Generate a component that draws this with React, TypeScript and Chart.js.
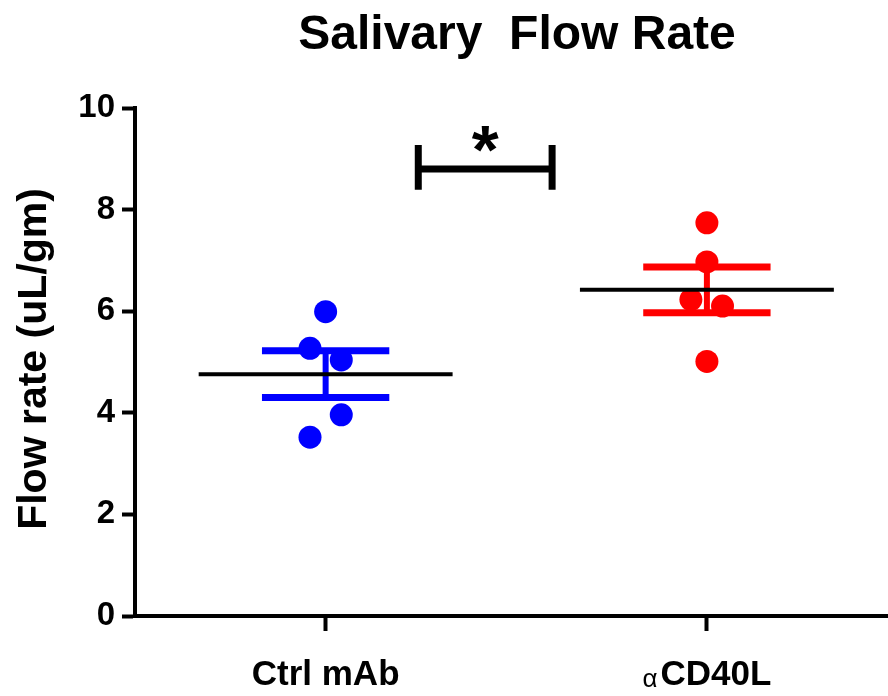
import React, { useEffect, useRef } from 'react';
import { Chart, registerables } from 'chart.js';

Chart.register(...registerables);

// ---- data ----
const chartTitle = 'Salivary  Flow Rate';
const yAxisTitle = 'Flow rate (uL/gm)';
const categories = ['Ctrl mAb', 'αCD40L'];
const categoryPositions = [1, 2];
const ctrlValues = [5.99, 5.27, 5.04, 3.96, 3.52];
const ctrlJitter = [0, -0.041, 0.041, 0.041, -0.041];
const cd40lValues = [7.74, 6.97, 6.23, 6.1, 5.01];
const cd40lJitter = [0, 0, -0.042, 0.041, 0];
const groupMeans = [4.76, 6.42];
const groupSem = [0.46, 0.45];
const groupColors = ['#0000ff', '#ff0000'];
const yTickMin = 0;
const yTickMax = 10;
const yTickStep = 2;
const meanHalfWidth = 0.333;
const capHalfWidth = 0.167;
const sigFrom = 1.243;
const sigTo = 1.594;
const sigY = 8.8;
const sigLow = 8.39;
const sigHigh = 9.27;
const sigLabel = '*';
const sigLabelY = 9.39;

const FONT = "'Liberation Sans', Arial, Helvetica, sans-serif";

const groups = [
  { values: ctrlValues, jitter: ctrlJitter },
  { values: cd40lValues, jitter: cd40lJitter },
];

function buildDatasets() {
  const meanSets: any[] = [];
  const semSets: any[] = [];
  const pointSets: any[] = [];
  groups.forEach((g, i) => {
    const c = categoryPositions[i];
    const m = groupMeans[i];
    const s = groupSem[i];
    const color = groupColors[i];
    meanSets.push({
      label: categories[i] + ' mean',
      data: [
        { x: c - meanHalfWidth, y: m },
        { x: c + meanHalfWidth, y: m },
      ],
      showLine: true,
      borderColor: '#000000',
      borderWidth: 4,
      pointRadius: 0,
      order: 0,
    });
    [m + s, m - s].forEach((v) => {
      semSets.push({
        label: categories[i] + ' sem cap',
        data: [
          { x: c - capHalfWidth, y: v },
          { x: c + capHalfWidth, y: v },
        ],
        showLine: true,
        borderColor: color,
        borderWidth: 7,
        borderCapStyle: 'butt',
        pointRadius: 0,
        order: 1,
      });
    });
    semSets.push({
      label: categories[i] + ' sem',
      data: [
        { x: c, y: m - s },
        { x: c, y: m + s },
      ],
      showLine: true,
      borderColor: color,
      borderWidth: 6,
      borderCapStyle: 'butt',
      pointRadius: 0,
      order: 1,
    });
    pointSets.push({
      label: categories[i],
      data: g.values.map((v, k) => ({ x: c + g.jitter[k], y: v })),
      showLine: false,
      pointRadius: 11.5,
      pointBackgroundColor: color,
      pointBorderWidth: 0,
      backgroundColor: color,
      borderColor: color,
      order: 2,
    });
  });
  return [...meanSets, ...semSets, ...pointSets];
}

const decorPlugin = {
  id: 'decor',
  afterDraw(chart: any) {
    const ctx = chart.ctx as CanvasRenderingContext2D;
    const xs = chart.scales.x;
    const ys = chart.scales.y;
    const area = chart.chartArea;
    ctx.save();
    ctx.fillStyle = '#000';
    ctx.strokeStyle = '#000';

    // title
    ctx.font = `bold 48px ${FONT}`;
    ctx.textAlign = 'center';
    ctx.textBaseline = 'alphabetic';
    ctx.fillText(chartTitle, 517, 49);

    // y axis title
    ctx.save();
    ctx.translate(35, (area.top + area.bottom) / 2 - 3);
    ctx.rotate(-Math.PI / 2);
    ctx.font = `bold 41px ${FONT}`;
    ctx.textAlign = 'center';
    ctx.textBaseline = 'middle';
    ctx.fillText(yAxisTitle, 0, 0);
    ctx.restore();

    // category labels
    categories.forEach((lab, i) => {
      const cx = xs.getPixelForValue(categoryPositions[i]);
      const base = 685;
      ctx.textAlign = 'left';
      ctx.textBaseline = 'alphabetic';
      let prefix = '';
      let rest = lab;
      if (lab.startsWith('α')) {
        prefix = 'α';
        rest = lab.slice(1);
      }
      ctx.font = `26px ${FONT}`;
      const pw = prefix ? ctx.measureText(prefix).width + 3 : 0;
      ctx.font = `bold 35px ${FONT}`;
      const rw = ctx.measureText(rest).width;
      const start = cx - (pw + rw) / 2;
      if (prefix) {
        ctx.font = `26px ${FONT}`;
        ctx.fillText(prefix, start, base + 2);
      }
      ctx.font = `bold 35px ${FONT}`;
      ctx.fillText(rest, start + pw, base);
    });

    // significance bracket
    const x1 = xs.getPixelForValue(sigFrom);
    const x2 = xs.getPixelForValue(sigTo);
    const yb = ys.getPixelForValue(sigY);
    const ylo = ys.getPixelForValue(sigLow);
    const yhi = ys.getPixelForValue(sigHigh);
    ctx.lineWidth = 7;
    ctx.lineCap = 'butt';
    ctx.beginPath();
    ctx.moveTo(x1, yb);
    ctx.lineTo(x2, yb);
    ctx.moveTo(x1, ylo);
    ctx.lineTo(x1, yhi);
    ctx.moveTo(x2, ylo);
    ctx.lineTo(x2, yhi);
    ctx.stroke();

    // asterisk
    ctx.font = `bold 100px ${FONT}`;
    const m100 = ctx.measureText(sigLabel);
    const w100 = m100.actualBoundingBoxLeft + m100.actualBoundingBoxRight;
    const size = Math.max(10, (100 * 27) / (w100 || 30));
    ctx.font = `bold ${size}px ${FONT}`;
    ctx.textAlign = 'left';
    ctx.textBaseline = 'alphabetic';
    const m = ctx.measureText(sigLabel);
    const tx = (x1 + x2) / 2;
    const ty = ys.getPixelForValue(sigLabelY);
    const inkCx = (m.actualBoundingBoxRight - m.actualBoundingBoxLeft) / 2;
    const inkCy = (m.actualBoundingBoxDescent - m.actualBoundingBoxAscent) / 2;
    ctx.fillText(sigLabel, tx - inkCx, ty - inkCy);

    ctx.restore();
  },
};

export default function App() {
  const canvasRef = useRef<HTMLCanvasElement | null>(null);

  useEffect(() => {
    const canvas = canvasRef.current;
    if (!canvas) return;
    const chart = new Chart(canvas, {
      type: 'scatter',
      data: { datasets: buildDatasets() as any },
      options: {
        responsive: false,
        animation: false,
        devicePixelRatio: 1,
        events: [],
        layout: { autoPadding: false, padding: { top: 108, left: 0, right: 0, bottom: 0 } },
        plugins: {
          legend: { display: false },
          tooltip: { enabled: false },
          title: { display: false },
        },
        scales: {
          x: {
            type: 'linear',
            min: 0.5,
            max: 2.475,
            afterBuildTicks: (scale: any) => {
              scale.ticks = categoryPositions.map((v) => ({ value: v }));
            },
            afterFit: (scale: any) => {
              scale.height = 80;
            },
            ticks: { display: false },
            grid: {
              drawOnChartArea: false,
              drawTicks: true,
              tickLength: 15,
              tickWidth: 4,
              tickColor: '#000',
              color: '#000',
            },
            border: { display: true, color: '#000', width: 4 },
          },
          y: {
            type: 'linear',
            min: yTickMin,
            max: yTickMax,
            ticks: {
              stepSize: yTickStep,
              color: '#000',
              padding: 7,
              font: { family: FONT, size: 33, weight: 'bold' },
            },
            afterFit: (scale: any) => {
              scale.width = 135;
            },
            grid: {
              drawOnChartArea: false,
              drawTicks: true,
              tickLength: 13,
              tickWidth: 4,
              tickColor: '#000',
              color: '#000',
            },
            border: { display: true, color: '#000', width: 4 },
          },
        },
      },
      plugins: [decorPlugin],
    } as any);
    return () => chart.destroy();
  }, []);

  return (
    <div style={{ position: 'absolute', left: 0, top: 0, width: 888, height: 696, background: '#fff' }}>
      <canvas ref={canvasRef} width={888} height={696} style={{ display: 'block' }} />
    </div>
  );
}
